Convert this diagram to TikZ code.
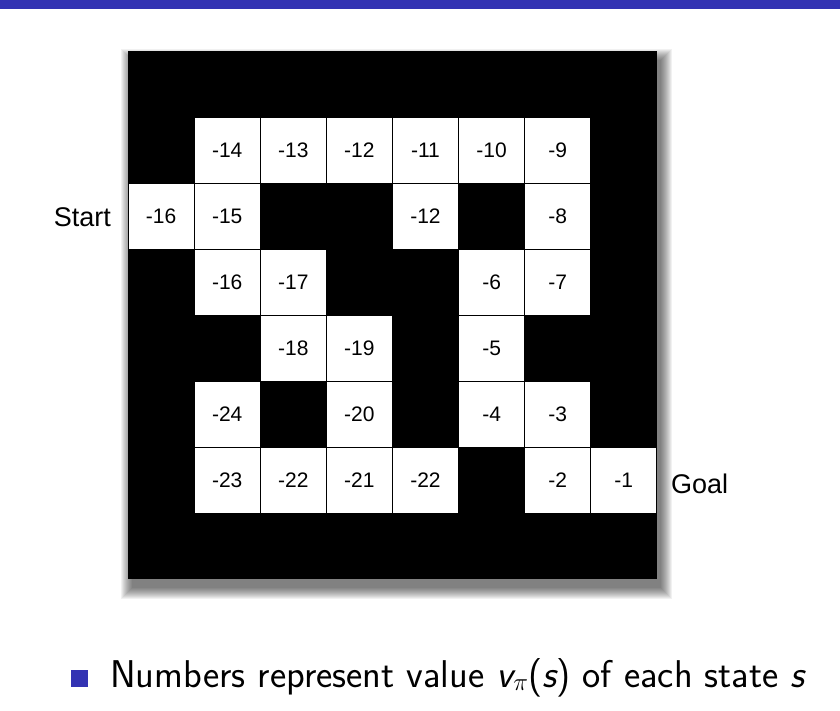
\documentclass[tikz,border=0pt]{standalone}
\usepackage{fontspec}
\newfontfamily\helv{Liberation Sans}
\definecolor{beamerblue}{RGB}{51,51,179}

\begin{document}
\begin{tikzpicture}[x=1pt, y=-1pt,
		cell/.style={rectangle, draw=black, fill=white, line width=1pt, minimum size=66pt, inner sep=0pt, font=\helv\fontsize{21}{25}\selectfont},
		side/.style={inner sep=0pt, font=\helv\fontsize{27}{32}\selectfont}]
		\useasboundingbox (0,0) rectangle (840,711);
		\node (topbar) [fill=beamerblue, minimum width=840pt, minimum height=9pt, inner sep=0pt, anchor=north west] at (0,0) {};

		% blurred shadow under the board
		\foreach \i in {0,...,11}
			\fill[black, opacity=0.055] (132-\i,60-\i) rectangle (661+\i,588+\i);
		\node (board) [fill=black, minimum width=529pt, minimum height=528pt, inner sep=0pt, anchor=north west] at (128,51) {};

		\node (r1c1) [cell] at (227.2,150.1) {-14};
		\node (r1c2) [cell] at (293.3,150.1) {-13};
		\node (r1c3) [cell] at (359.4,150.1) {-12};
		\node (r1c4) [cell] at (425.5,150.1) {-11};
		\node (r1c5) [cell] at (491.6,150.1) {-10};
		\node (r1c6) [cell] at (557.7,150.1) {-9};

		\node (r2c0) [cell] at (161.1,216.2) {-16};
		\node (r2c1) [cell] at (227.2,216.2) {-15};
		\node (r2c4) [cell] at (425.5,216.2) {-12};
		\node (r2c6) [cell] at (557.7,216.2) {-8};

		\node (r3c1) [cell] at (227.2,282.3) {-16};
		\node (r3c2) [cell] at (293.3,282.3) {-17};
		\node (r3c5) [cell] at (491.6,282.3) {-6};
		\node (r3c6) [cell] at (557.7,282.3) {-7};

		\node (r4c2) [cell] at (293.3,348.4) {-18};
		\node (r4c3) [cell] at (359.4,348.4) {-19};
		\node (r4c5) [cell] at (491.6,348.4) {-5};

		\node (r5c1) [cell] at (227.2,414.5) {-24};
		\node (r5c3) [cell] at (359.4,414.5) {-20};
		\node (r5c5) [cell] at (491.6,414.5) {-4};
		\node (r5c6) [cell] at (557.7,414.5) {-3};

		\node (r6c1) [cell] at (227.2,480.6) {-23};
		\node (r6c2) [cell] at (293.3,480.6) {-22};
		\node (r6c3) [cell] at (359.4,480.6) {-21};
		\node (r6c4) [cell] at (425.5,480.6) {-22};
		\node (r6c6) [cell] at (557.7,480.6) {-2};
		\node (r6c7) [cell] at (623.8,480.6) {-1};

		\node (start) [side, anchor=base east] at (111,227) {Start};
		\node (goal) [side, anchor=base west] at (671,493) {Goal};

		\node (bullet) [fill=beamerblue, minimum size=17pt, inner sep=0pt, anchor=south west] at (71,687) {};
		\node (note) [anchor=base west, inner sep=0pt, font=\sffamily\fontsize{38.7}{46}\selectfont] at (110,687) {Numbers represent value {\itshape v}$_\pi$({\itshape s}) of each state {\itshape s}};
	\end{tikzpicture}
\end{document}
